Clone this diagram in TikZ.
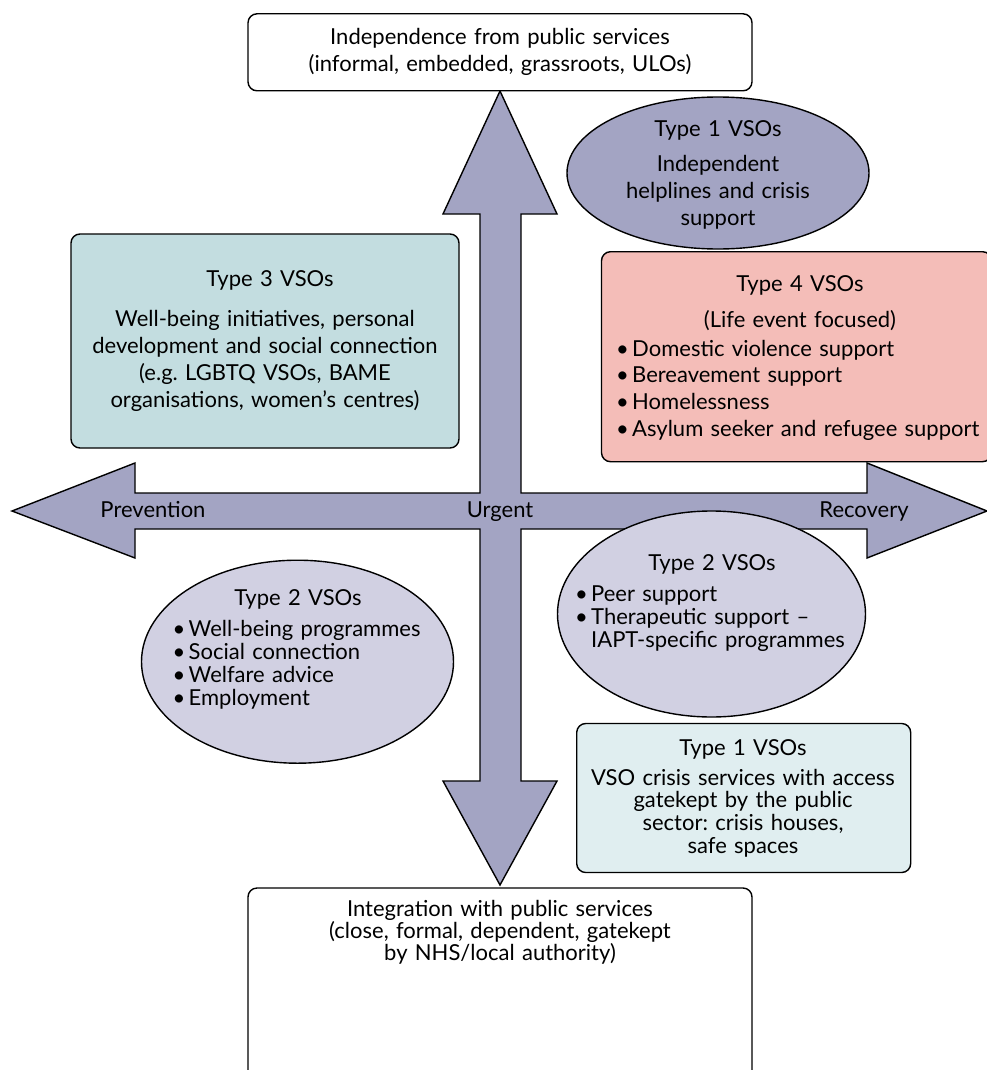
\documentclass[tikz,border=0pt]{standalone}
\usepackage{fontspec}
\setmainfont{Lato}
\usetikzlibrary{shapes.geometric}
\definecolor{arrowfill}{HTML}{A3A4C3}
\definecolor{tealbox}{HTML}{C3DDE0}
\definecolor{pinkbox}{HTML}{F4BDB8}
\definecolor{lilac}{HTML}{D1D0E2}
\definecolor{paleteal}{HTML}{E0EEF0}
\newcommand{\bul}{\makebox[16pt][l]{•}}
\frenchspacing
\begin{document}
\begin{tikzpicture}[x=1pt,y=-1pt,
  outline/.style={draw=black, line width=1.4pt},
  rbox/.style={outline, rectangle, rounded corners=9pt, inner sep=0pt},
  oval/.style={outline, ellipse, inner sep=0pt},
  wide/.style={font=\fontsize{22}{26.8}\selectfont\frenchspacing},
  tight/.style={font=\fontsize{22}{22.8}\selectfont\frenchspacing},
  ctext/.style={inner sep=0pt, text width=440pt, align=center, anchor=base},
  ltext/.style={inner sep=0pt, text width=400pt, align=left, anchor=base west},
  lbl/.style={inner sep=0pt, anchor=base, font=\fontsize{22}{22.8}\selectfont}
]
\useasboundingbox (0,0) rectangle (987,1070);

% cross-shaped double arrows
\draw[outline, fill=arrowfill, line join=miter]
  (500,91) -- (557,214) -- (521,214) -- (521,493) -- (867,493) -- (867,463)
  -- (987,511) -- (867,558) -- (867,529) -- (521,529) -- (521,781)
  -- (557,781) -- (500,885) -- (443,781) -- (480,781) -- (480,529)
  -- (135,529) -- (135,558) -- (12,511) -- (135,463) -- (135,493)
  -- (480,493) -- (480,214) -- (443,214) -- cycle;

% shapes
\node[rbox, fill=white, minimum width=504pt, minimum height=77pt] (topbox) at (500,52.3) {};
\node[rbox, fill=white, minimum width=504pt, minimum height=192pt] (botbox) at (500,984) {};
\node[oval, fill=arrowfill, minimum width=302pt, minimum height=152pt] (t1oval) at (718,173) {};
\node[rbox, fill=tealbox, minimum width=388pt, minimum height=214pt] (t3box) at (265,341) {};
\node[rbox, fill=pinkbox, minimum width=390pt, minimum height=210pt] (t4box) at (796.5,356.7) {};
\node[oval, fill=lilac, minimum width=308pt, minimum height=206pt] (t2roval) at (711.5,614) {};
\node[oval, fill=lilac, minimum width=312pt, minimum height=203pt] (t2loval) at (297.5,661.7) {};
\node[rbox, fill=paleteal, minimum width=334pt, minimum height=149pt] (t1box) at (743.7,798) {};

% texts
\node[ctext, wide] (toptext) at (500,45) {Independence from public services\\(informal, embedded, grassroots, ULOs)};

\node[ctext, wide] (t1title) at (718,136.7) {Type 1 VSOs};
\node[ctext, wide] (t1body) at (718,171.7) {Independent\\helplines and crisis\\support};

\node[ctext, wide] (t3title) at (270,286.7) {Type 3 VSOs};
\node[ctext, wide] (t3body) at (265,326.7) {Well-being initiatives, personal\\development and social connection\\(e.g. LGBTQ VSOs, BAME\\organisations, women’s centres)};

\node[ctext, wide] (t4title) at (800,291.7) {Type 4 VSOs};
\node[ctext, wide] (t4sub) at (800,327.7) {(Life event focused)};
\node[ltext, wide] (t4list) at (616,356) {\bul Domestic violence support\\\bul Bereavement support\\\bul Homelessness\\\bul Asylum seeker and refugee support};

\node[lbl] (prev) at (153,517.7) {Prevention};
\node[lbl] (urg) at (500,517.7) {Urgent};
\node[lbl] (rec) at (864,517.7) {Recovery};

\node[ctext, tight] (t2rtitle) at (712,570.7) {Type 2 VSOs};
\node[ltext, tight] (t2rlist) at (575,601.7) {\bul Peer support\\\bul Therapeutic support –\\\hspace*{16pt}IAPT-specific programmes};

\node[ctext, tight] (t2ltitle) at (298,605) {Type 2 VSOs};
\node[ltext, tight] (t2llist) at (172.5,636.7) {\bul Well-being programmes\\\bul Social connection\\\bul Welfare advice\\\bul Employment};

\node[ctext, tight] (t1btitle) at (743,755) {Type 1 VSOs};
\node[ctext, tight] (t1bbody) at (743,785) {VSO crisis services with access\\gatekept by the public\\sector: crisis houses,\\safe spaces};

\node[ctext, font=\fontsize{22}{22}\selectfont\frenchspacing] (bottext) at (500,916) {Integration with public services\\(close, formal, dependent, gatekept\\by NHS/local authority)};
\end{tikzpicture}
\end{document}
